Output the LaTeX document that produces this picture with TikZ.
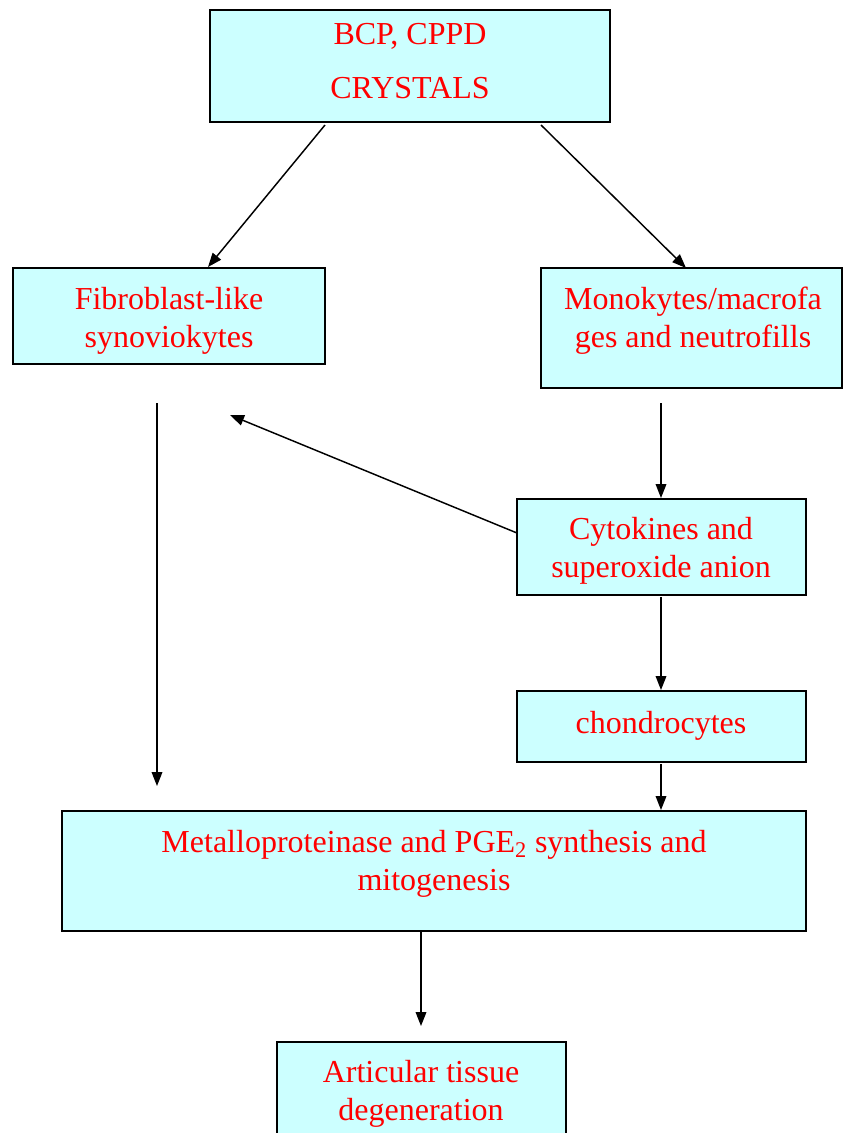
\documentclass[tikz,border=0pt]{standalone}
\usepackage{fontspec}
\setmainfont{Liberation Serif}
\usetikzlibrary{arrows.meta}
\definecolor{boxfill}{HTML}{CCFFFF}
\definecolor{txtred}{HTML}{FF0000}
\begin{document}
\begin{tikzpicture}[x=0.75pt,y=-0.75pt,
  box/.style={draw=black, line width=1.4pt, fill=boxfill, inner sep=0pt, rectangle},
  lbl/.style={text=txtred, font=\fontsize{24}{28.5}\selectfont, align=center, inner sep=0pt},
  arr/.style={line width=1.1pt, -{Triangle[length=10.5pt,width=8pt]}}]
\useasboundingbox (0,0) rectangle (843,1133);
\clip (0,0) rectangle (843,1133);
% boxes
\node[box, minimum width=300pt, minimum height=84pt] (crys) at (410,66) {};
\node[box, minimum width=234pt, minimum height=72pt] (fib) at (169,316) {};
\node[box, minimum width=225.75pt, minimum height=90pt] (mono) at (691.5,328) {};
\node[box, minimum width=216.75pt, minimum height=72pt] (cyto) at (661.5,547) {};
\node[box, minimum width=216.75pt, minimum height=53.25pt] (chon) at (661.5,726.5) {};
\node[box, minimum width=558pt, minimum height=90pt] (metal) at (434,871) {};
\node[box, minimum width=216.75pt, minimum height=88.5pt] (artic) at (421.5,1101) {};
% labels
\node[lbl, font=\fontsize{24}{40.5}\selectfont] (tcrys) at (410,61) {BCP, CPPD\\CRYSTALS};
\node[lbl] (tfib) at (169,320.5) {Fibroblast-like\\synoviokytes};
\node[lbl] (tmono) at (693,320.5) {Monokytes/macrofa\\ges and neutrofills};
\node[lbl] (tcyto) at (661,550.5) {Cytokines and\\superoxide anion};
\node[lbl] (tchon) at (661,725.5) {chondrocytes};
\node[lbl] (tmetal) at (434,863.5) {Metalloproteinase and PGE\textsubscript{2} synthesis and\\mitogenesis};
\node[lbl] (tartic) at (421,1093.5) {Articular tissue\\degeneration};
% free ends
\coordinate (c1) at (325,125);
\coordinate (c1e) at (208,267);
\coordinate (c2) at (541,125);
\coordinate (c2e) at (686,268);
\coordinate (c3) at (157,403);
\coordinate (c3e) at (157,786);
\coordinate (c4) at (517,533);
\coordinate (c4e) at (230,415);
\coordinate (c5) at (661,403);
\coordinate (c5e) at (661,498);
\coordinate (c6) at (661,597);
\coordinate (c6e) at (661,690);
\coordinate (c7) at (661,764);
\coordinate (c7e) at (661,810);
\coordinate (c8) at (421,932);
\coordinate (c8e) at (421,1026);
% arrows
\draw[arr] (c1) -- (c1e);
\draw[arr] (c2) -- (c2e);
\draw[arr] (c3) -- (c3e);
\draw[arr] (c4) -- (c4e);
\draw[arr] (c5) -- (c5e);
\draw[arr] (c6) -- (c6e);
\draw[arr] (c7) -- (c7e);
\draw[arr] (c8) -- (c8e);
\end{tikzpicture}
\end{document}
